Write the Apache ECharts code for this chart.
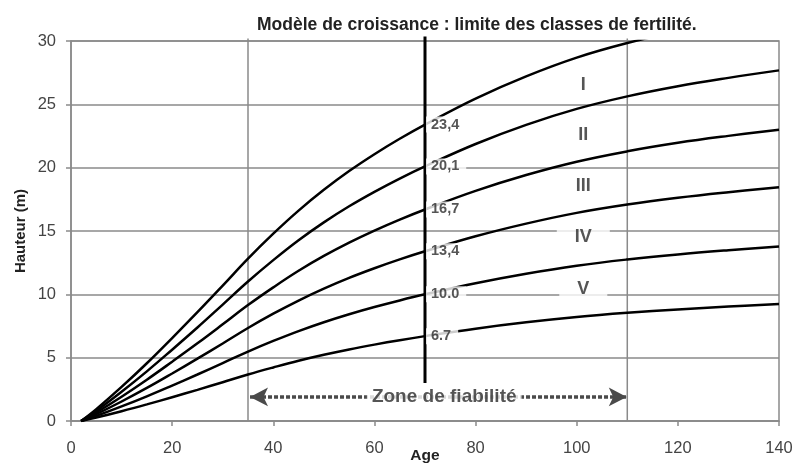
<!DOCTYPE html>
<html>
<head>
<meta charset="utf-8">
<script src="https://cdn.jsdelivr.net/npm/echarts@6/dist/echarts.min.js"></script>
<style>
  html, body { margin: 0; padding: 0; background: #fff; }
  #chart { width: 796px; height: 463px; }
</style>
</head>
<body>
<div id="chart"></div>
<script>
var ages = [2, 5, 10, 15, 20, 25, 30, 35, 40, 45, 50, 55, 60, 65, 70, 80, 90, 100, 110, 120, 130, 140];

// hauteurs (m) of the limits between fertility classes
var limite1 = [0, 0.94, 2.69, 4.56, 6.55, 8.59, 10.69, 12.82, 14.79, 16.61, 18.25, 19.73, 21.06, 22.28, 23.4, 25.46, 27.21, 28.69, 29.84, 30.77, 31.54, 32.22];
var limite2 = [0, 0.80, 2.31, 3.92, 5.63, 7.38, 9.19, 11.01, 12.70, 14.27, 15.68, 16.95, 18.09, 19.14, 20.1, 21.87, 23.38, 24.64, 25.63, 26.43, 27.09, 27.68];
var limite3 = [0, 0.67, 1.92, 3.26, 4.68, 6.13, 7.63, 9.15, 10.55, 11.86, 13.03, 14.08, 15.03, 15.90, 16.7, 18.17, 19.42, 20.47, 21.29, 21.96, 22.51, 23.00];
var limite4 = [0, 0.54, 1.54, 2.61, 3.75, 4.92, 6.12, 7.34, 8.47, 9.51, 10.45, 11.30, 12.06, 12.76, 13.4, 14.58, 15.58, 16.43, 17.09, 17.62, 18.06, 18.45];
var limite5 = [0, 0.40, 1.15, 1.95, 2.80, 3.67, 4.57, 5.48, 6.32, 7.10, 7.80, 8.43, 9.00, 9.52, 10.0, 10.88, 11.63, 12.26, 12.75, 13.15, 13.48, 13.77];
var limite6 = [0, 0.27, 0.77, 1.31, 1.88, 2.46, 3.06, 3.67, 4.23, 4.76, 5.23, 5.65, 6.03, 6.38, 6.7, 7.29, 7.79, 8.21, 8.54, 8.81, 9.03, 9.23];
var limites = [limite1, limite2, limite3, limite4, limite5, limite6];

// heights at the reference age 70
var ageReference = 70;
var hauteurs70 = [23.4, 20.1, 16.7, 13.4, 10.0, 6.7];
var textes70 = ['23,4', '20,1', '16,7', '13,4', '10.0', '6.7'];

// class names and where they sit between the curves
var classes = ['I', 'II', 'III', 'IV', 'V'];
var posClasses = [[101.3, 26.5], [101.3, 22.6], [101.3, 18.55], [101.3, 14.5], [101.3, 10.4]];

// reliability zone (ages)
var zoneFiabilite = [35, 110];
var yZone = 1.9;
var texteZone = 'Zone de fiabilité';
var xTicks = [0, 20, 40, 60, 80, 100, 120, 140];
var yTicks = [0, 5, 10, 15, 20, 25, 30];

var police = "'Liberation Sans', Arial, sans-serif";
var chart = echarts.init(document.getElementById('chart'));

var series = [];

// thin vertical lines at the bounds of the zone
zoneFiabilite.forEach(function (x) {
  series.push({
    type: 'line',
    data: [[x, 0], [x, 30.2]],
    symbol: 'none',
    clip: false,
    silent: true,
    z: 1,
    lineStyle: { color: '#8a8a8a', width: 1.5 }
  });
});

// the six curves
limites.forEach(function (vals, i) {
  series.push({
    name: 'limite ' + (i + 1),
    type: 'line',
    data: ages.map(function (a, j) { return [a, vals[j]]; }),
    symbol: 'none',
    smooth: 0.4,
    z: 3,
    lineStyle: { color: '#000', width: 2.5 }
  });
});

// thick line at age 70 + arrow of the zone
series.push({
  type: 'line',
  data: [[ageReference, 3.0], [ageReference, 30.35]],
  symbol: 'none',
  clip: false,
  silent: true,
  z: 4,
  lineStyle: { color: '#000', width: 3 },
  markLine: {
    silent: true,
    symbol: ['arrow', 'arrow'],
    symbolSize: [14, 18],
    lineStyle: { color: '#4a4a4a', width: 3.5, type: [4, 2] },
    label: { show: false },
    data: [[{ coord: [zoneFiabilite[0] + 0.4, yZone] }, { coord: [zoneFiabilite[1] - 0.1, yZone] }]]
  }
});

// text of the zone, over the dotted line
series.push({
  type: 'scatter',
  data: [[(zoneFiabilite[0] + zoneFiabilite[1]) / 2 + 1.3, yZone]],
  symbolSize: 0,
  silent: true,
  z: 6,
  label: {
    show: true,
    position: 'inside',
    formatter: texteZone,
    color: '#2a2a2a',
    fontFamily: police,
    fontWeight: 'bold',
    fontSize: 19,
    backgroundColor: '#fff',
    padding: [2, 5]
  }
});

// values at age 70
series.push({
  type: 'scatter',
  data: hauteurs70.map(function (h) { return [ageReference, h]; }),
  symbolSize: 0,
  silent: true,
  z: 5,
  label: {
    show: true,
    position: 'right',
    distance: 1,
    formatter: function (p) { return textes70[p.dataIndex]; },
    color: '#2a2a2a',
    fontFamily: police,
    fontWeight: 'bold',
    fontSize: 14.5,
    backgroundColor: '#fff',
    padding: [1, 7, 0, 5]
  }
});

// class labels
series.push({
  type: 'scatter',
  data: posClasses,
  symbolSize: 0,
  silent: true,
  z: 5,
  label: {
    show: true,
    position: 'inside',
    formatter: function (p) { return classes[p.dataIndex]; },
    color: '#2a2a2a',
    fontFamily: police,
    fontWeight: 'bold',
    fontSize: 18,
    backgroundColor: '#fff',
    padding: [5, 18]
  }
});

chart.setOption({
  animation: false,
  title: {
    text: 'Modèle de croissance : limite des classes de fertilité.',
    left: 252,
    top: 11,
    textStyle: { fontFamily: police, fontSize: 17.5, fontWeight: 'bold', color: '#222' }
  },
  grid: {
    left: 71, right: 17, top: 41, bottom: 42,
    outerBoundsMode: 'none',
    show: true, borderColor: '#8a8a8a', borderWidth: 1.5
  },
  xAxis: {
    type: 'value',
    min: xTicks[0], max: xTicks[xTicks.length - 1], interval: 20,
    name: 'Age',
    nameLocation: 'middle',
    nameGap: 27,
    nameMoveOverlap: false,
    nameTextStyle: { fontFamily: police, fontWeight: 'bold', fontSize: 15.5, color: '#222', verticalAlign: 'top' },
    axisLine: { lineStyle: { color: '#8a8a8a', width: 1.5 } },
    axisTick: { show: true, length: 5, lineStyle: { color: '#8a8a8a', width: 1.5 } },
    axisLabel: { color: '#444', fontFamily: police, fontSize: 16.5, margin: 19 },
    splitLine: { show: false }
  },
  yAxis: {
    type: 'value',
    min: yTicks[0], max: yTicks[yTicks.length - 1], interval: 5,
    name: 'Hauteur (m)',
    nameLocation: 'middle',
    nameRotate: 90,
    nameGap: 43,
    nameMoveOverlap: false,
    nameTextStyle: { fontFamily: police, fontWeight: 'bold', fontSize: 15, color: '#222' },
    axisLine: { show: true, lineStyle: { color: '#8a8a8a', width: 1.5 } },
    axisTick: { show: true, length: 5, lineStyle: { color: '#8a8a8a', width: 1.5 } },
    axisLabel: { color: '#444', fontFamily: police, fontSize: 16.5, margin: 15 },
    splitLine: { show: true, lineStyle: { color: '#8a8a8a', width: 1.5 } }
  },
  series: series
});
</script>
</body>
</html>
